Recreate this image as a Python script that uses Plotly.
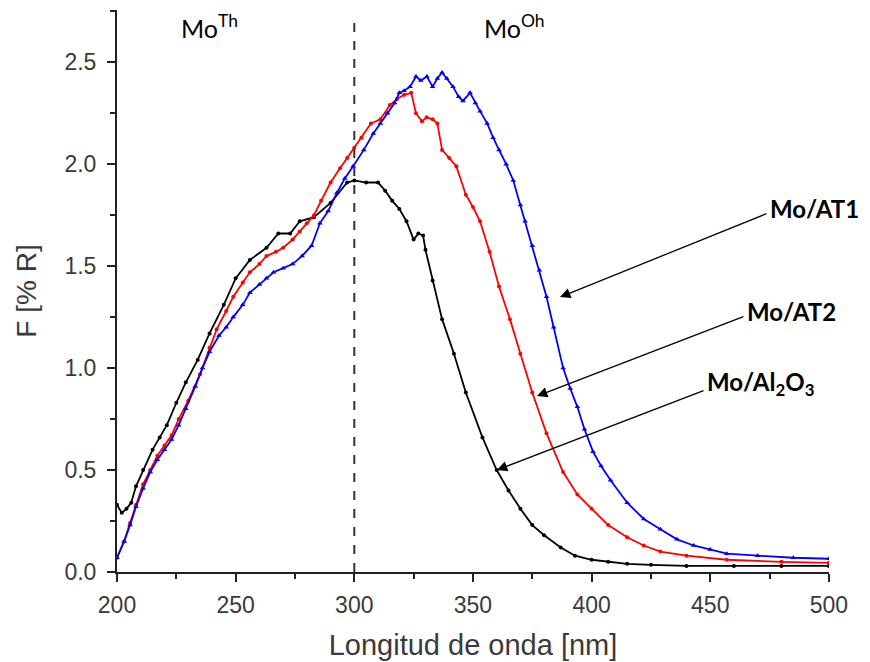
import plotly.graph_objects as go

# ---- data ----
x_al2o3 = [200, 202, 204, 206, 208, 211, 215, 218, 221, 225, 229, 234, 239, 245, 250, 256, 263, 268,
           273, 277, 283, 290, 297, 300, 305, 310, 313, 316, 319, 322, 325, 327, 329, 330, 333, 337,
           342, 347, 354, 360, 365, 370, 375, 380, 387, 393, 400, 407, 415, 425, 440, 460, 480, 500]
y_al2o3 = [0.33, 0.29, 0.31, 0.34, 0.42, 0.50, 0.60, 0.66, 0.72, 0.83, 0.93, 1.04, 1.17, 1.31, 1.44,
           1.53, 1.59, 1.66, 1.66, 1.72, 1.74, 1.81, 1.91, 1.92, 1.91, 1.91, 1.87, 1.82, 1.78, 1.72,
           1.63, 1.66, 1.65, 1.58, 1.43, 1.24, 1.07, 0.88, 0.66, 0.50, 0.40, 0.31, 0.23, 0.18, 0.12,
           0.08, 0.06, 0.05, 0.04, 0.035, 0.03, 0.03, 0.03, 0.03]

x_at2 = [200, 203, 205.5, 208, 211, 214, 217, 220, 223, 226, 230, 235, 239, 242, 246, 249, 253, 256,
         260, 263, 267, 270, 274, 277, 280, 283, 286, 290, 294, 297, 300, 303, 307, 311, 315, 318,
         321, 324, 326, 328.5, 330.5, 333, 335, 337, 340, 343, 347, 350, 353, 357, 361, 365.6, 370,
         375, 381, 388, 394, 400, 407, 415, 422, 429, 440, 457, 480, 500]
y_at2 = [0.07, 0.15, 0.24, 0.33, 0.43, 0.50, 0.57, 0.62, 0.67, 0.75, 0.84, 0.97, 1.10, 1.19, 1.28,
         1.35, 1.42, 1.47, 1.51, 1.55, 1.57, 1.59, 1.63, 1.67, 1.71, 1.75, 1.82, 1.91, 1.98, 2.03,
         2.08, 2.13, 2.20, 2.22, 2.29, 2.32, 2.34, 2.35, 2.25, 2.21, 2.23, 2.22, 2.20, 2.07, 2.03,
         1.99, 1.85, 1.79, 1.72, 1.57, 1.40, 1.24, 1.07, 0.88, 0.68, 0.49, 0.38, 0.31, 0.23, 0.17,
         0.13, 0.10, 0.08, 0.06, 0.05, 0.045]

x_at1 = [200, 203, 205.5, 208, 211, 214, 217, 220, 223, 226, 229, 233, 236, 239, 243, 246, 249, 253,
         256, 260, 263, 266, 270, 274, 278, 282, 285.5, 289, 292.7, 296, 299.5, 304, 308, 311, 314,
         317, 319, 321, 323.5, 326, 328, 330.6, 333, 335, 337, 339, 341.6, 344, 345.8, 348.8, 351,
         353, 356, 358.5, 361, 364, 367, 370, 372, 375, 378, 381, 384, 388, 391, 394, 397, 400.6,
         404, 408, 415, 422, 429, 436, 443, 450, 457, 470, 485, 500]
y_at1 = [0.07, 0.15, 0.23, 0.32, 0.41, 0.49, 0.55, 0.60, 0.65, 0.72, 0.80, 0.91, 1.00, 1.08, 1.16,
         1.20, 1.25, 1.31, 1.37, 1.41, 1.44, 1.47, 1.49, 1.51, 1.55, 1.60, 1.71, 1.77, 1.86, 1.93,
         1.99, 2.07, 2.15, 2.20, 2.25, 2.30, 2.35, 2.36, 2.38, 2.43, 2.41, 2.43, 2.38, 2.42, 2.45,
         2.42, 2.38, 2.33, 2.31, 2.35, 2.30, 2.26, 2.20, 2.13, 2.07, 2.00, 1.92, 1.80, 1.72, 1.60,
         1.48, 1.35, 1.20, 1.00, 0.90, 0.81, 0.70, 0.59, 0.52, 0.45, 0.34, 0.26, 0.21, 0.16, 0.13,
         0.11, 0.09, 0.08, 0.07, 0.065]

x_ticks = [200, 250, 300, 350, 400, 450, 500]
y_ticks = [0.0, 0.5, 1.0, 1.5, 2.0, 2.5]
y_tick_labels = ["0.0", "0.5", "1.0", "1.5", "2.0", "2.5"]

divider_x = 300
labels = ["Mo/AT1", "Mo/AT2", "Mo/Al<sub>2</sub>O<sub>3</sub>"]
label_tail = [(474.3, 1.76), (464.6, 1.255), (447.8, 0.892)]
label_tip = [(386.7, 1.348), (377.0, 0.863), (360.1, 0.50)]

fig = go.Figure()

fig.add_trace(go.Scatter(x=x_al2o3, y=y_al2o3, mode="lines+markers", name="Mo/Al2O3",
                         line=dict(color="black", width=1.8),
                         marker=dict(color="black", size=4, symbol="circle")))
fig.add_trace(go.Scatter(x=x_at2, y=y_at2, mode="lines+markers", name="Mo/AT2",
                         line=dict(color="#ff0000", width=1.8),
                         marker=dict(color="#ff0000", size=4, symbol="circle")))
fig.add_trace(go.Scatter(x=x_at1, y=y_at1, mode="lines+markers", name="Mo/AT1",
                         line=dict(color="#0000ff", width=1.8),
                         marker=dict(color="#0000ff", size=5, symbol="triangle-up")))

fig.add_shape(type="line", x0=divider_x, x1=divider_x, y0=0, y1=2.70, xref="x", yref="y",
              line=dict(color="#333333", width=2, dash="dash"))

# region labels
fig.add_annotation(x=239, y=2.675, xref="x", yref="y", text="Mo<sup>Th</sup>", showarrow=False,
                   font=dict(family="Lato", size=25, color="black"))
fig.add_annotation(x=367.5, y=2.675, xref="x", yref="y", text="Mo<sup>Oh</sup>", showarrow=False,
                   font=dict(family="Lato", size=25, color="black"))

for txt, (tx, ty), (px, py) in zip(labels, label_tail, label_tip):
    fig.add_annotation(x=px, y=py, ax=tx, ay=ty, xref="x", yref="y", axref="x", ayref="y",
                       text="", showarrow=True, arrowhead=2, arrowsize=1.6, arrowwidth=1.3,
                       arrowcolor="black")
    fig.add_annotation(x=tx, y=ty, xref="x", yref="y", text="<b>" + txt + "</b>", showarrow=False,
                       xanchor="left", yanchor="bottom", yshift=-12,
                       font=dict(family="Lato", size=24, color="black"))

axis_font = dict(family="Liberation Sans, Arial", size=23, color="#3a3a3a")

fig.update_xaxes(range=[200, 500.05], tickmode="linear", tick0=x_ticks[0],
                 dtick=x_ticks[1] - x_ticks[0], ticks="outside", ticklen=8, tickwidth=2,
                 tickcolor="#222222", showline=True, linecolor="#222222", linewidth=2,
                 showgrid=False, zeroline=False, tickfont=axis_font, automargin=False,
                 ticklabelstandoff=3,
                 minor=dict(ticks="outside", ticklen=5, tickwidth=2, tickcolor="#222222",
                            dtick=(x_ticks[1] - x_ticks[0]) / 2, showgrid=False),
                 title=dict(text="Longitud de onda [nm]", standoff=18,
                            font=dict(family="Liberation Sans, Arial", size=29, color="#3a3a3a")))
fig.update_yaxes(range=[0, 2.756], tickmode="linear", tick0=y_ticks[0],
                 dtick=y_ticks[1] - y_ticks[0], tickformat=".1f", ticks="outside",
                 ticklen=8, tickwidth=2, tickcolor="#222222", showline=True, linecolor="#222222",
                 linewidth=2, showgrid=False, zeroline=False, tickfont=axis_font, automargin=False,
                 ticklabelstandoff=6,
                 minor=dict(ticks="outside", ticklen=5, tickwidth=2, tickcolor="#222222",
                            dtick=(y_ticks[1] - y_ticks[0]) / 2, showgrid=False),
                 title=dict(text="F [% R]", standoff=20,
                            font=dict(family="Liberation Sans, Arial", size=28, color="#3a3a3a")))

# page body adds ~8px offset; compensate so the plot area lands where the reference has it
fig.update_layout(width=870, height=662, margin=dict(l=109, r=49, t=2, b=98),
                  paper_bgcolor="white", plot_bgcolor="white", showlegend=False)

fig.write_html("out.html")
